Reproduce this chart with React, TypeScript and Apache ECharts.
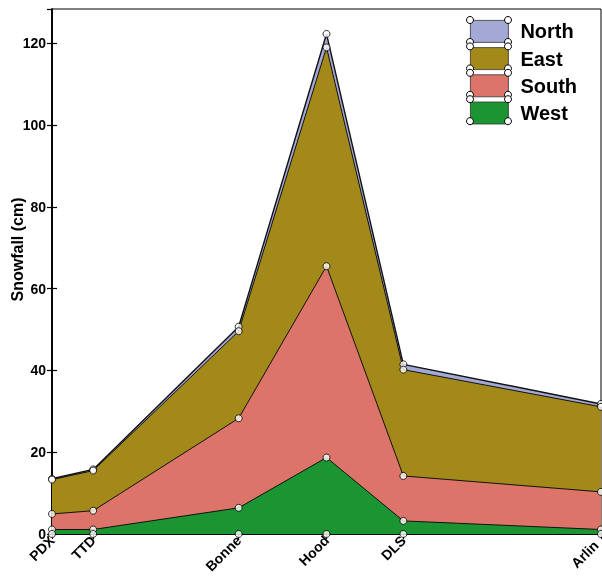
import React, { useEffect, useRef } from 'react';
import * as echarts from 'echarts';

// Stations along the route and their relative position on the x scale
const stations = ['PDX', 'TTD', 'Bonne', 'Hood', 'DLS', 'Arlin'];
const stationPos = [0, 15, 68, 100, 128, 200];

// Snowfall (cm) per aspect, stacked bottom to top: West, South, East, North
const west = [1.1, 1.1, 6.4, 18.7, 3.2, 1.1];
const south = [3.8, 4.6, 21.9, 46.8, 11.0, 9.2];
const east = [8.4, 9.8, 21.3, 53.5, 26.0, 20.8];
const north = [0.2, 0.3, 1.1, 3.3, 1.3, 0.7];

const legendNames = ['North', 'East', 'South', 'West'];
const colorMap: Record<string, string> = {
  North: '#a3a8d4',
  East: '#a3891a',
  South: '#dd7469',
  West: '#1a9531',
};

const FONT = '"Liberation Sans", Arial, Helvetica, sans-serif';

export default function App() {
  const ref = useRef<HTMLDivElement>(null);

  useEffect(() => {
    if (!ref.current) return;
    const chart = echarts.init(ref.current, undefined, { renderer: 'svg' });

    const westTop = west.map((v) => v);
    const southTop = westTop.map((v, i) => v + south[i]);
    const eastTop = southTop.map((v, i) => v + east[i]);
    const northTop = eastTop.map((v, i) => v + north[i]);
    const tops: Record<string, number[]> = {
      North: northTop,
      East: eastTop,
      South: southTop,
      West: westTop,
    };

    const nameOf: Record<number, string> = {};
    stationPos.forEach((p, i) => (nameOf[p] = stations[i]));
    const lastPos = stationPos[stationPos.length - 1];

    const areaSeries = legendNames.map((name) => ({
      name,
      type: 'line',
      data: stationPos.map((x, i) => [x, tops[name][i]]),
      showSymbol: false,
      symbol: 'none',
      color: colorMap[name],
      lineStyle: { color: '#111', width: name === 'North' ? 1.4 : 1 },
      areaStyle: { color: colorMap[name], opacity: 1 },
      z: 2,
      clip: false,
      silent: true,
    }));

    const markerData: number[][] = [];
    legendNames.forEach((name) => {
      stationPos.forEach((x, i) => markerData.push([x, tops[name][i]]));
    });
    stationPos.forEach((x) => markerData.push([x, 0]));

    const legendLeft = 470;
    const legendTop = 20;
    const itemW = 38;
    const itemH = 22;
    const gap = 4.4;
    const corners: any[] = [];
    legendNames.forEach((_, i) => {
      const t = legendTop + i * (itemH + gap);
      [t, t + itemH].forEach((yy) => {
        [legendLeft, legendLeft + itemW].forEach((xx) => {
          corners.push({
            type: 'circle',
            shape: { cx: xx, cy: yy, r: 3.5 },
            style: { fill: '#fff', stroke: '#000', lineWidth: 1 },
            z: 100,
          });
        });
      });
    });

    const labelFont = {
      fontSize: 14,
      fontWeight: 'bold',
      color: '#000',
      fontFamily: FONT,
    };

    chart.setOption({
      animation: false,
      textStyle: { fontFamily: FONT },
      grid: {
        left: 52,
        right: 1,
        top: 9,
        bottom: 44,
        show: true,
        borderColor: '#000',
        borderWidth: 1,
        backgroundColor: '#fff',
        containLabel: false,
        outerBoundsMode: 'none',
      },
      legend: {
        data: legendNames,
        orient: 'vertical',
        left: legendLeft,
        top: legendTop,
        itemWidth: itemW,
        itemHeight: itemH,
        itemGap: gap,
        icon: 'rect',
        padding: 0,
        selectedMode: false,
        itemStyle: { borderColor: '#333', borderWidth: 0.8 },
        textStyle: {
          fontFamily: FONT,
          fontSize: 20,
          fontWeight: 'bold',
          color: '#000',
          lineHeight: 22,
          padding: [0, 0, 0, 7],
        },
      },
      xAxis: [
        {
          type: 'value',
          min: 0,
          max: 200,
          position: 'bottom',
          axisLine: { show: true, lineStyle: { color: '#000', width: 1.5 } },
          axisTick: {
            show: true,
            inside: true,
            length: 5,
            customValues: stationPos,
            lineStyle: { color: '#000', width: 1.2 },
          },
          axisLabel: {
            customValues: stationPos,
            formatter: (v: number) =>
              v === lastPos ? `{edge|${nameOf[v]}}` : nameOf[v] ?? '',
            rotate: 45,
            margin: 4,
            ...labelFont,
            rich: {
              edge: { ...labelFont, padding: [0, 7, 0, 0] },
            },
          },
          splitLine: { show: false },
        },
        {
          type: 'value',
          min: 0,
          max: 200,
          position: 'top',
          axisLine: { show: true, lineStyle: { color: '#000', width: 1.5 } },
          axisTick: {
            show: true,
            inside: true,
            length: 5,
            customValues: stationPos,
            lineStyle: { color: '#000', width: 1.2 },
          },
          axisLabel: { show: false },
          splitLine: { show: false },
        },
      ],
      yAxis: [
        {
          type: 'value',
          min: 0,
          max: 128.4,
          interval: 20,
          position: 'left',
          name: 'Snowfall (cm)',
          nameLocation: 'middle',
          nameGap: 27,
          nameMoveOverlap: false,
          nameTextStyle: {
            fontSize: 16,
            fontWeight: 'bold',
            color: '#000',
            fontFamily: FONT,
            padding: [0, 0, 0, 44],
          },
          axisLine: { show: true, lineStyle: { color: '#000', width: 1.5 } },
          axisTick: { show: true, inside: true, length: 5, lineStyle: { color: '#000', width: 1.2 } },
          axisLabel: {
            showMaxLabel: false,
            margin: 6,
            ...labelFont,
          },
          splitLine: { show: false },
        },
        {
          type: 'value',
          min: 0,
          max: 128.4,
          interval: 20,
          position: 'right',
          axisLine: { show: true, lineStyle: { color: '#000', width: 1.5 } },
          axisTick: { show: true, inside: true, length: 5, lineStyle: { color: '#000', width: 1.2 } },
          axisLabel: { show: false },
          splitLine: { show: false },
        },
      ],
      series: [
        ...areaSeries,
        {
          name: 'markers',
          type: 'scatter',
          data: markerData,
          symbol: 'circle',
          symbolSize: 7,
          itemStyle: { color: '#fff', borderColor: '#000', borderWidth: 1 },
          z: 5,
          clip: false,
          silent: true,
        },
      ],
      graphic: corners,
    });

    return () => chart.dispose();
  }, []);

  return (
    <div
      ref={ref}
      style={{ position: 'fixed', left: 0, top: 0, width: 602, height: 578 }}
    />
  );
}
